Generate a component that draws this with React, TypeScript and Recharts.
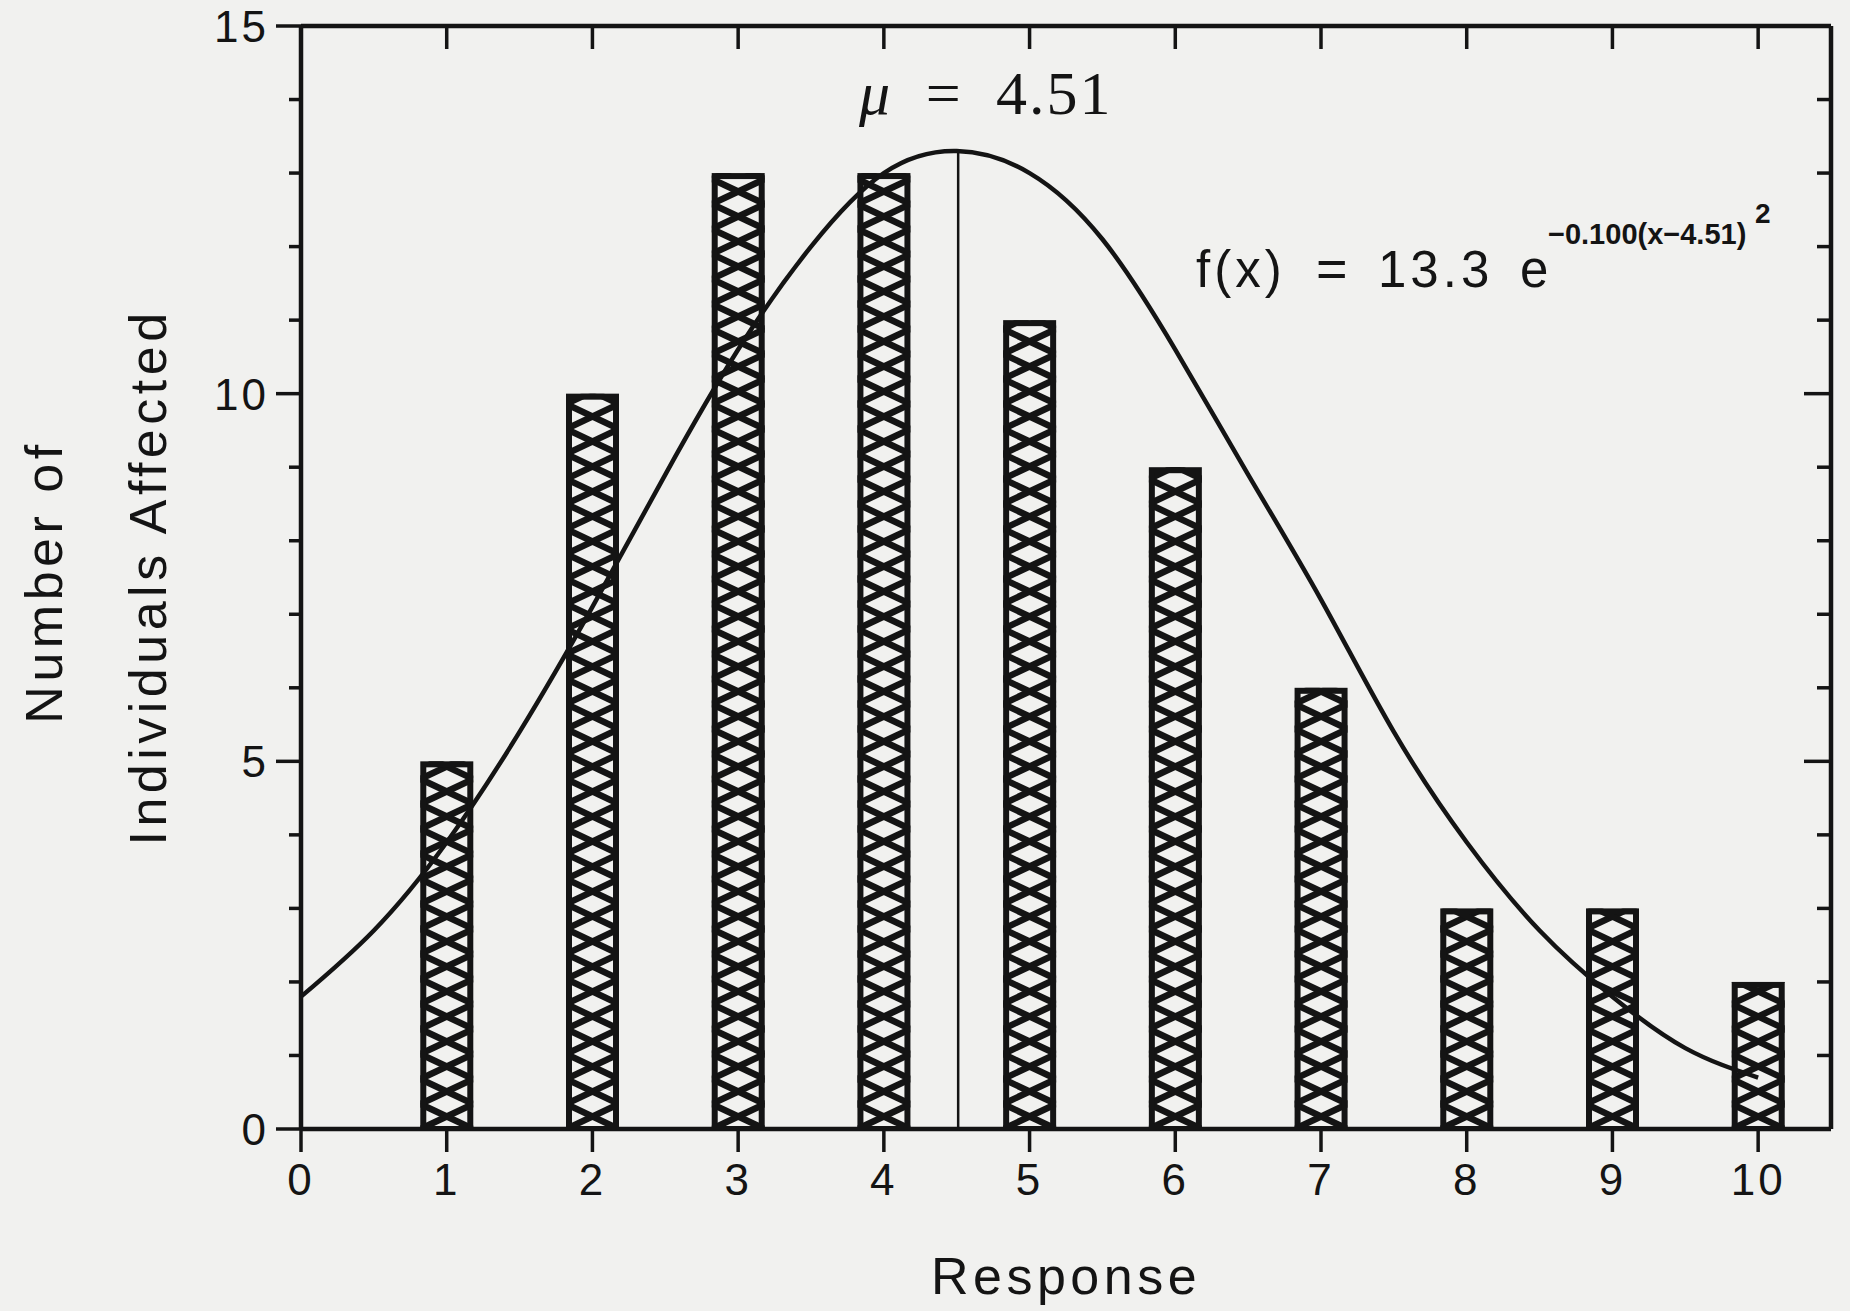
import { Bar, ComposedChart, Line, ReferenceLine, XAxis, YAxis } from "recharts";

// bars: number of individuals with each response
const responses = [1, 2, 3, 4, 5, 6, 7, 8, 9, 10];
const affected = [5, 10, 13, 13, 11, 9, 6, 3, 3, 2];

// fitted curve, every half unit
const curveX = [0, 0.5, 1, 1.5, 2, 2.5, 3, 3.5, 4, 4.5, 5, 5.5, 6, 6.5, 7, 7.5, 8, 8.5, 9, 9.5, 10];
const curveY = [1.8, 2.7, 3.9, 5.4, 7.1, 8.9, 10.6, 12.0, 13.0, 13.3, 13.0, 12.1, 10.6, 8.9, 7.2, 5.4, 3.9, 2.7, 1.8, 1.1, 0.7];

const xTicks = [0, 1, 2, 3, 4, 5, 6, 7, 8, 9, 10];
const xTopTicks = [1, 2, 3, 4, 5, 6, 7, 8, 9, 10];
const yTicks = [0, 1, 2, 3, 4, 5, 6, 7, 8, 9, 10, 11, 12, 13, 14, 15];

const mu = 4.51;
const peak = 13.3;

const data = curveX.map((x, i) => {
    const k = responses.indexOf(x);
    return { x, fit: curveY[i], count: k >= 0 ? affected[k] : undefined };
});

const INK = "#141414";
const PAPER = "#f1f1ef";
const SANS = "'Liberation Sans', Arial, sans-serif";
const SERIF = "'Liberation Serif', 'Times New Roman', serif";

const W = 1850;
const H = 1311;
const LEFT_W = 100;
const BOTTOM_H = 100;

function LeftTick({ x, y, payload }: any) {
    const major = payload.value % 5 === 0;
    return (
        <g>
            <line x1={x} x2={x - (major ? 25 : 12)} y1={y} y2={y} stroke={INK} strokeWidth={3.5} />
            {major && (
                <text x={x - 32} y={y} dy="0.36em" textAnchor="end" fontFamily={SANS} fontSize={44} fill={INK} style={{ letterSpacing: 3 }}>
                    {payload.value}
                </text>
            )}
        </g>
    );
}

function RightTick({ x, y, payload }: any) {
    const major = payload.value % 5 === 0;
    return <line x1={x} x2={x - (major ? 27 : 14)} y1={y} y2={y} stroke={INK} strokeWidth={3.5} />;
}

function BottomTick({ x, y, payload }: any) {
    return (
        <g>
            <line x1={x} x2={x} y1={y} y2={y + 23} stroke={INK} strokeWidth={3.5} />
            <text x={x} y={y + 66} textAnchor="middle" fontFamily={SANS} fontSize={44} fill={INK} style={{ letterSpacing: 3 }}>
                {payload.value}
            </text>
        </g>
    );
}

function TopTick({ x, y }: any) {
    return <line x1={x} x2={x} y1={y} y2={y + 23} stroke={INK} strokeWidth={3.5} />;
}

// bar drawn as an outlined box filled with stacked X's
function HatchBar(props: any) {
    const { x, y, width, height, index } = props;
    if (!height || height <= 0) return null;
    const cell = 25;
    const bottom = y + height;
    const n = Math.ceil(height / cell);
    const lines = [];
    for (let i = 0; i < n; i++) {
        const y1 = bottom - i * cell;
        const y0 = y1 - cell;
        lines.push(<line key={`a${i}`} x1={x} y1={y1} x2={x + width} y2={y0} />);
        lines.push(<line key={`b${i}`} x1={x} y1={y0} x2={x + width} y2={y1} />);
    }
    const id = `hatch-${index}`;
    return (
        <g>
            <defs>
                <clipPath id={id}>
                    <rect x={x} y={y} width={width} height={height} />
                </clipPath>
            </defs>
            <rect x={x} y={y} width={width} height={height} fill={PAPER} />
            <g clipPath={`url(#${id})`} stroke={INK} strokeWidth={6.5}>
                {lines}
            </g>
            <rect x={x + 3} y={y + 3} width={width - 6} height={height - 3} fill="none" stroke={INK} strokeWidth={6} />
        </g>
    );
}

export default function App() {
    return (
        <div style={{ position: "absolute", left: 0, top: 0, width: W, height: H, background: PAPER }}>
            <ComposedChart
                width={W}
                height={H}
                data={data}
                margin={{ top: 25, right: 18, left: 301 - LEFT_W, bottom: H - 1129 - BOTTOM_H }}
            >
                <XAxis
                    dataKey="x"
                    type="number"
                    domain={[0, 10.5]}
                    ticks={xTicks}
                    allowDataOverflow
                    height={BOTTOM_H}
                    axisLine={{ stroke: INK, strokeWidth: 4.5 }}
                    tickLine={false}
                    tickSize={0}
                    tickMargin={0}
                    tick={<BottomTick />}
                />
                <XAxis
                    xAxisId="top"
                    orientation="top"
                    dataKey="x"
                    type="number"
                    domain={[0, 10.5]}
                    ticks={xTopTicks}
                    allowDataOverflow
                    height={1}
                    axisLine={{ stroke: INK, strokeWidth: 4.5 }}
                    tickLine={false}
                    tickSize={0}
                    tickMargin={0}
                    tick={<TopTick />}
                />
                <YAxis
                    type="number"
                    domain={[0, 15]}
                    ticks={yTicks}
                    allowDataOverflow
                    width={LEFT_W}
                    axisLine={{ stroke: INK, strokeWidth: 4.5 }}
                    tickLine={false}
                    tickSize={0}
                    tickMargin={0}
                    tick={<LeftTick />}
                />
                <YAxis
                    yAxisId="right"
                    orientation="right"
                    type="number"
                    domain={[0, 15]}
                    ticks={yTicks}
                    allowDataOverflow
                    width={1}
                    axisLine={{ stroke: INK, strokeWidth: 4.5 }}
                    tickLine={false}
                    tickSize={0}
                    tickMargin={0}
                    tick={<RightTick />}
                />
                <Bar dataKey="count" barSize={53} shape={<HatchBar />} isAnimationActive={false} />
                <ReferenceLine
                    segment={[
                        { x: mu, y: 0 },
                        { x: mu, y: peak },
                    ]}
                    stroke={INK}
                    strokeWidth={2.5}
                    ifOverflow="visible"
                />
                <Line dataKey="fit" type="natural" stroke={INK} strokeWidth={4.5} dot={false} activeDot={false} isAnimationActive={false} />

                <text x={859} y={114} fontFamily={SERIF} fontSize={62} fill={INK} style={{ wordSpacing: 16, letterSpacing: 2 }}>
                    <tspan fontStyle="italic">μ</tspan> = 4.51
                </text>
                <g fontFamily={SANS} fill={INK}>
                    <text x={1196} y={287} fontSize={51} style={{ letterSpacing: 4 }}>f(x)</text>
                    <text x={1316} y={287} fontSize={54}>=</text>
                    <text x={1378} y={287} fontSize={51} style={{ letterSpacing: 4 }}>13.3</text>
                    <text x={1520} y={287} fontSize={51}>e</text>
                    <text x={1548} y={244} fontSize={29} fontWeight="bold">−0.100(x−4.51)</text>
                    <text x={1755} y={223} fontSize={28} fontWeight="bold">2</text>
                </g>
                <g fontFamily={SANS} fill={INK} fontSize={52} style={{ letterSpacing: 4.5 }}>
                    <text x={1066} y={1294} textAnchor="middle">Response</text>
                    <text transform="translate(62 582) rotate(-90)" textAnchor="middle">Number of</text>
                    <text transform="translate(166 577) rotate(-90)" textAnchor="middle">Individuals Affected</text>
                </g>
            </ComposedChart>
        </div>
    );
}
